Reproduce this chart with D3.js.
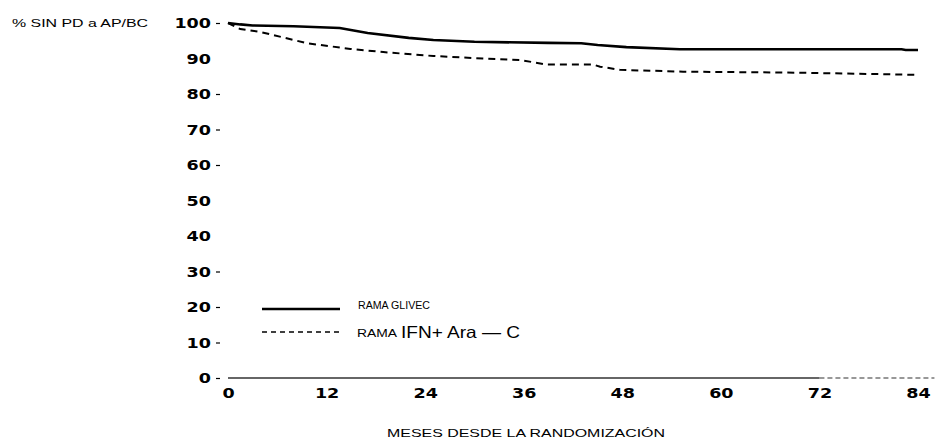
<!DOCTYPE html>
<html><head><meta charset="utf-8">
<script src="https://cdn.jsdelivr.net/npm/d3@7"></script>
<style>body{margin:0;background:#fff}svg{display:block}</style>
</head><body>
<svg id="c" width="939" height="440"></svg>
<script>
// Data
const monthTicks = [0, 12, 24, 36, 48, 60, 72, 84];
const pctTicks = [0, 10, 20, 30, 40, 50, 60, 70, 80, 90, 100];
const glivecMonths = [0, 1.5, 3, 8, 13.6, 17, 22, 25, 30, 39, 43, 45, 48.5, 55, 82, 82.5, 84];
const glivecPct    = [100, 99.6, 99.3, 99.1, 98.6, 97.2, 95.8, 95.2, 94.7, 94.4, 94.3, 93.8, 93.2, 92.6, 92.6, 92.4, 92.4];
const ifnMonths = [0, 1.5, 3.9, 7.5, 9.6, 14.9, 18.9, 25, 31, 35.5, 38.8, 44.4, 45.3, 47.7, 55.4, 69.6, 83.9];
const ifnPct    = [100, 98.3, 97.5, 95.5, 94.3, 92.7, 91.8, 90.7, 90.0, 89.6, 88.3, 88.3, 87.7, 86.8, 86.3, 86.0, 85.4];
const yTitle = "% SIN PD a AP/BC";
const xTitle = "MESES DESDE LA RANDOMIZACIÓN";
const legendGlivec = "RAMA GLIVEC";
const legendIfnSmall = "RAMA";
const legendIfnBig = "IFN+ Ara — C";

const svg = d3.select("#c");
const x = d3.scaleLinear().domain([0, 84]).range([228, 918]);
const y = d3.scaleLinear().domain([0, 100]).range([378, 23]);
const numFont = "'DejaVu Sans', sans-serif";
const txtFont = "'Liberation Sans', Arial, sans-serif";

function styleNum(sel) {
  sel.attr("font-family", numFont).attr("font-weight", "bold")
    .attr("font-size", 14.5).attr("fill", "#000")
    .attr("textLength", function () { return this.textContent.length * 12.2; })
    .attr("lengthAdjust", "spacingAndGlyphs");
}

// Y axis
const yAx = svg.append("g").attr("transform", "translate(220,0)")
  .call(d3.axisLeft(y).tickValues(pctTicks).tickSize(4).tickPadding(5).tickFormat(d3.format("d")));
yAx.select(".domain").remove();
yAx.selectAll(".tick line").attr("stroke", "#000").attr("stroke-width", 1.2)
  .attr("stroke-opacity", d => [90, 50, 40].includes(d) ? 0 : 1);
yAx.selectAll(".tick text").call(styleNum);

// X axis
const xAx = svg.append("g").attr("transform", "translate(0,378)")
  .call(d3.axisBottom(x).tickValues(monthTicks).tickSize(0).tickPadding(10).tickFormat(d3.format("d")));
xAx.select(".domain").attr("stroke", "#333").attr("stroke-width", 1.3)
  .attr("d", `M${x(0)},0H${x(72)}`);
xAx.append("path").attr("d", `M${x(72)},0H${x(86)}`).attr("stroke", "#333")
  .attr("stroke-width", 1.2).attr("stroke-dasharray", "5,3").attr("fill", "none");
xAx.selectAll(".tick text").call(styleNum);

// Curves
const line = d3.line().x(d => x(d[0])).y(d => y(d[1]));
svg.append("path").datum(glivecMonths.map((m, i) => [m, glivecPct[i]]))
  .attr("d", line).attr("fill", "none").attr("stroke", "#000").attr("stroke-width", 2.6);
svg.append("path").datum(ifnMonths.map((m, i) => [m, ifnPct[i]]))
  .attr("d", line).attr("fill", "none").attr("stroke", "#000").attr("stroke-width", 2)
  .attr("stroke-dasharray", "7,5");

// Titles
svg.append("text").attr("x", 12).attr("y", 27).text(yTitle)
  .attr("font-family", txtFont).attr("font-size", 10.5)
  .attr("fill", "#000").attr("textLength", 136).attr("lengthAdjust", "spacingAndGlyphs");
svg.append("text").attr("x", 387).attr("y", 437).text(xTitle)
  .attr("font-family", txtFont).attr("font-size", 10.5)
  .attr("fill", "#000").attr("textLength", 278).attr("lengthAdjust", "spacingAndGlyphs");

// Legend
svg.append("line").attr("x1", 262).attr("x2", 340).attr("y1", 309).attr("y2", 309)
  .attr("stroke", "#000").attr("stroke-width", 2.6);
svg.append("text").attr("x", 358).attr("y", 309).text(legendGlivec)
  .attr("font-family", txtFont).attr("font-size", 11)
  .attr("fill", "#000").attr("textLength", 72).attr("lengthAdjust", "spacingAndGlyphs");
svg.append("line").attr("x1", 262).attr("x2", 342).attr("y1", 332).attr("y2", 332)
  .attr("stroke", "#000").attr("stroke-width", 1.6).attr("stroke-dasharray", "5,4");
svg.append("text").attr("x", 357).attr("y", 337).text(legendIfnSmall)
  .attr("font-family", txtFont).attr("font-size", 10)
  .attr("fill", "#000").attr("textLength", 40).attr("lengthAdjust", "spacingAndGlyphs");
svg.append("text").attr("x", 401).attr("y", 338).text(legendIfnBig)
  .attr("font-family", txtFont).attr("font-size", 16.5)
  .attr("fill", "#000").attr("textLength", 119).attr("lengthAdjust", "spacingAndGlyphs");
</script>
</body></html>
